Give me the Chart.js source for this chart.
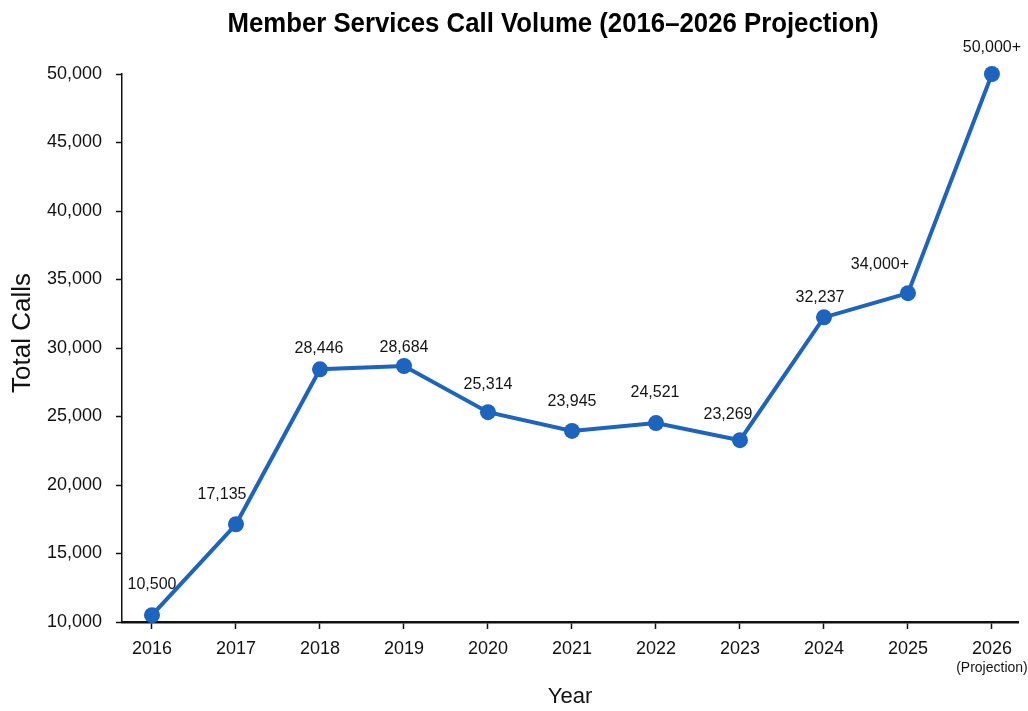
<!DOCTYPE html>
<html>
<head>
<meta charset="utf-8">
<title>Member Services Call Volume</title>
<script src="https://cdn.jsdelivr.net/npm/chart.js@4.4.1/dist/chart.umd.min.js"></script>
<style>
  html, body { margin: 0; padding: 0; background: #ffffff; }
  #wrap { width: 1028px; height: 711px; }
</style>
</head>
<body>
<div id="wrap"><canvas id="callChart" width="1028" height="711"></canvas></div>
<script>
// ---- data ----
const years = [2016, 2017, 2018, 2019, 2020, 2021, 2022, 2023, 2024, 2025, 2026];
const yearLabels = ['2016', '2017', '2018', '2019', '2020', '2021', '2022', '2023', '2024', '2025', '2026'];
const totalCalls = [10500, 17135, 28446, 28684, 25314, 23945, 24521, 23269, 32237, 34000, 50000];
const valueLabels = ['10,500', '17,135', '28,446', '28,684', '25,314', '23,945', '24,521', '23,269', '32,237', '34,000+', '50,000+'];
const yTickValues = [10000, 15000, 20000, 25000, 30000, 35000, 40000, 45000, 50000];
const projectionNote = '(Projection)';
const chartTitle = 'Member Services Call Volume (2016\u20132026 Projection)';
const yAxisTitle = 'Total Calls';

// ---- styling ----
const LINE_BLUE = '#1c64bd';
const FONT = '"Liberation Sans", Arial, sans-serif';
// nudges for each value label, relative to its point
const labelShift = [[0, -31], [-14, -30], [-1, -21], [0, -18], [0, -28], [0, -29], [-1, -30], [-12, -26], [-4, -20], [-28, -29], [0, -26]];

const points = years.map((yr, i) => ({ x: yr, y: totalCalls[i] }));

const decorations = {
  id: 'decorations',
  afterDatasetsDraw(chart) {
    const ctx = chart.ctx;
    const meta = chart.getDatasetMeta(0);
    const area = chart.chartArea;
    ctx.save();
    // value labels above the points
    ctx.fillStyle = '#141414';
    ctx.font = '16px ' + FONT;
    ctx.textAlign = 'center';
    ctx.textBaseline = 'middle';
    meta.data.forEach((pt, i) => {
      ctx.fillText(valueLabels[i], pt.x + labelShift[i][0], pt.y + labelShift[i][1]);
    });
    // note under the last year
    const xs = chart.scales.x;
    ctx.font = '14px ' + FONT;
    ctx.fillText(projectionNote, xs.getPixelForValue(years[years.length - 1]), 668);

    // vertical axis title
    ctx.save();
    ctx.translate(23, (area.top + area.bottom) / 2 - 15);
    ctx.rotate(-Math.PI / 2);
    ctx.font = '26px ' + FONT;
    ctx.fillStyle = '#111111';
    ctx.fillText(yAxisTitle, 0, 0);
    ctx.restore();

    // chart title, set slightly condensed
    ctx.save();
    ctx.translate(553, 24);
    ctx.scale(0.92, 1);
    ctx.font = 'bold 28px ' + FONT;
    ctx.fillStyle = '#000000';
    ctx.fillText(chartTitle, 0, 0);
    ctx.restore();
    ctx.restore();
  }
};

new Chart(document.getElementById('callChart'), {
  type: 'line',
  data: {
    datasets: [{
      label: 'Total Calls',
      data: points,
      borderColor: LINE_BLUE,
      backgroundColor: LINE_BLUE,
      borderWidth: 4,
      pointRadius: 8,
      pointHoverRadius: 8,
      pointBackgroundColor: LINE_BLUE,
      pointBorderWidth: 0,
      tension: 0,
      fill: false,
      clip: false
    }]
  },
  options: {
    responsive: false,
    animation: false,
    devicePixelRatio: 1,
    layout: { padding: { top: 74, right: 10, left: 0, bottom: 0 } },
    plugins: {
      legend: { display: false },
      tooltip: { enabled: false },
      title: { display: false }
    },
    scales: {
      x: {
        type: 'linear',
        min: 2015.643,
        max: 2026.31,
        afterBuildTicks(scale) { scale.ticks = years.map(v => ({ value: v })); },
        afterFit(scale) { scale.height = 89; },
        grid: { drawOnChartArea: false, drawTicks: true, tickLength: 7, tickColor: '#111111', tickWidth: 1.5 },
        border: { display: true, color: '#111111', width: 2.5 },
        ticks: {
          color: '#111111',
          font: { family: FONT, size: 18 },
          padding: 9,
          maxRotation: 0,
          autoSkip: false,
          callback(value) { const i = years.indexOf(value); return i >= 0 ? yearLabels[i] : ''; }
        },
        title: {
          display: true,
          text: 'Year',
          color: '#111111',
          font: { family: FONT, size: 22 },
          padding: { top: 0, bottom: 1 }
        }
      },
      y: {
        type: 'linear',
        min: 10000,
        max: 50000,
        afterBuildTicks(scale) { scale.ticks = yTickValues.map(v => ({ value: v })); },
        afterFit(scale) { scale.width = 122; },
        grid: { drawOnChartArea: false, drawTicks: true, tickLength: 6, tickColor: '#111111', tickWidth: 1.5 },
        border: { display: true, color: '#111111', width: 1.5 },
        ticks: {
          color: '#111111',
          font: { family: FONT, size: 18 },
          padding: 14,
          callback(value) { return value.toLocaleString('en-US'); }
        },
        title: { display: false }
      }
    }
  },
  plugins: [decorations]
});
</script>
</body>
</html>
